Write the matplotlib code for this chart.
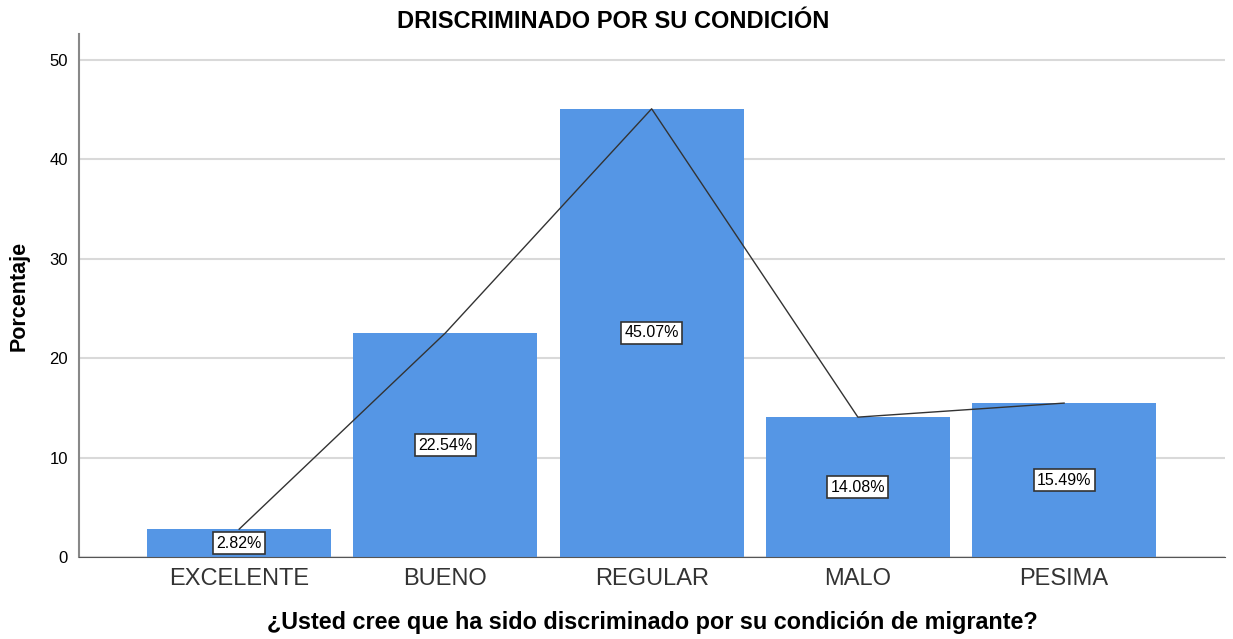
import matplotlib
matplotlib.use('Agg')
import matplotlib.pyplot as plt

# Datos
categorias = ['EXCELENTE', 'BUENO', 'REGULAR', 'MALO', 'PESIMA']
porcentajes = [2.82, 22.54, 45.07, 14.08, 15.49]
etiquetas = ['2.82%', '22.54%', '45.07%', '14.08%', '15.49%']

plt.rcParams['font.family'] = ['Liberation Sans', 'DejaVu Sans']

fig = plt.figure(figsize=(12.33, 6.39), dpi=100)
ax = fig.add_axes([0.064, 0.128, 0.9295, 0.819])

x = range(len(categorias))
ax.bar(x, porcentajes, width=0.893, color='#5596E5', zorder=2)
ax.plot(x, porcentajes, color='#333333', linewidth=1, zorder=3)

for i, (v, t) in enumerate(zip(porcentajes, etiquetas)):
    ax.text(i, v / 2, t, ha='center', va='center', fontsize=11.5, zorder=4,
            bbox=dict(boxstyle='square,pad=0.2', facecolor='white',
                      edgecolor='#333333', linewidth=1.2))

ax.set_xlim(-0.777, 4.78)
ax.set_ylim(0, 52.6)
ax.set_yticks([0, 10, 20, 30, 40, 50])
ax.set_xticks(list(x))
ax.set_xticklabels(categorias, fontsize=17, color='#333333')
ax.tick_params(axis='y', labelsize=12, length=0, pad=8)
ax.tick_params(axis='x', length=0, pad=8)
ax.grid(axis='y', color='#d9d9d9', linewidth=1.5, zorder=0)

ax.spines['top'].set_visible(False)
ax.spines['right'].set_visible(False)
ax.spines['left'].set_color('#888888')
ax.spines['bottom'].set_color('#555555')
ax.spines['left'].set_linewidth(1.5)

fig.text(0.497, 0.966, 'DRISCRIMINADO POR SU CONDICIÓN', fontsize=17,
         fontweight='bold', ha='center', va='center')
ax.set_ylabel('Porcentaje', fontsize=15.5, fontweight='bold', labelpad=14)
ax.set_xlabel('¿Usted cree que ha sido discriminado por su condición de migrante?',
              fontsize=16.8, fontweight='bold', labelpad=15)

plt.savefig('out.png', dpi=100)
